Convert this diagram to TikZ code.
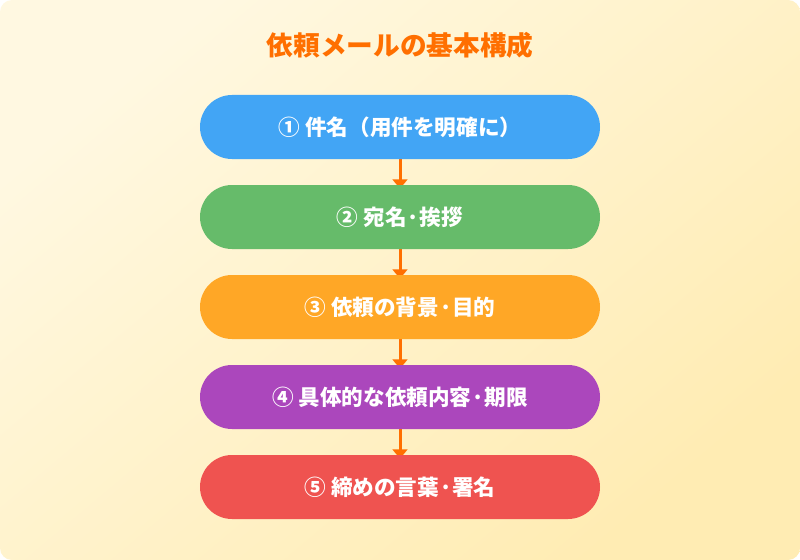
\documentclass[tikz,border=0pt]{standalone}
\usepackage{fontspec}
\setmainfont{Noto Sans CJK JP}
\usetikzlibrary{arrows.meta}
\definecolor{bgA}{HTML}{FFF8E1}
\definecolor{bgB}{HTML}{FFECB3}
\definecolor{titlec}{HTML}{FF6F00}
\definecolor{arrowc}{HTML}{FF6F00}
\definecolor{cblue}{HTML}{42A5F5}
\definecolor{cgreen}{HTML}{66BB6A}
\definecolor{corange}{HTML}{FFA726}
\definecolor{cpurple}{HTML}{AB47BC}
\definecolor{cred}{HTML}{EF5350}
\pgfdeclarelayer{back}
\pgfdeclarelayer{mid}
\pgfsetlayers{back,mid,main}
\tikzset{
  stepbox/.style={rectangle, rounded corners=24pt, minimum width=300pt, minimum height=48pt,
    inner sep=0pt, text=white, font=\bfseries\fontsize{16.2pt}{19pt}\selectfont},
  flowarrow/.style={draw=arrowc, line width=2.25pt, -{Triangle[width=11pt,length=7pt]}, shorten >=-3pt},
  titletext/.style={text=titlec, font=\bfseries\fontsize{20pt}{24pt}\selectfont}
}
\begin{document}
\begin{tikzpicture}[x=0.75pt,y=-0.75pt]
\useasboundingbox (0,0) rectangle (800,560);
\begin{pgfonlayer}{back}
\fill[white] (0,0) rectangle (800,560);
\shade[rounded corners=9pt, top color=bgA, bottom color=bgB, shading angle=40] (0,0) rectangle (800,560);
\end{pgfonlayer}
\node[titletext] (title) at (400,45) {依頼メールの基本構成};
\node[stepbox, fill=cblue] (b1) at (400,127) {① 件名（用件を明確に）};
\node[stepbox, fill=cgreen] (b2) at (400,217) {② 宛名·挨拶};
\node[stepbox, fill=corange] (b3) at (400,307) {③ 依頼の背景·目的};
\node[stepbox, fill=cpurple] (b4) at (400,397) {④ 具体的な依頼内容·期限};
\node[stepbox, fill=cred] (b5) at (400,487) {⑤ 締めの言葉·署名};
\begin{pgfonlayer}{mid}
\draw[flowarrow] (b1.south) -- (b2.north);
\draw[flowarrow] (b2.south) -- (b3.north);
\draw[flowarrow] (b3.south) -- (b4.north);
\draw[flowarrow] (b4.south) -- (b5.north);
\end{pgfonlayer}
\end{tikzpicture}
\end{document}
